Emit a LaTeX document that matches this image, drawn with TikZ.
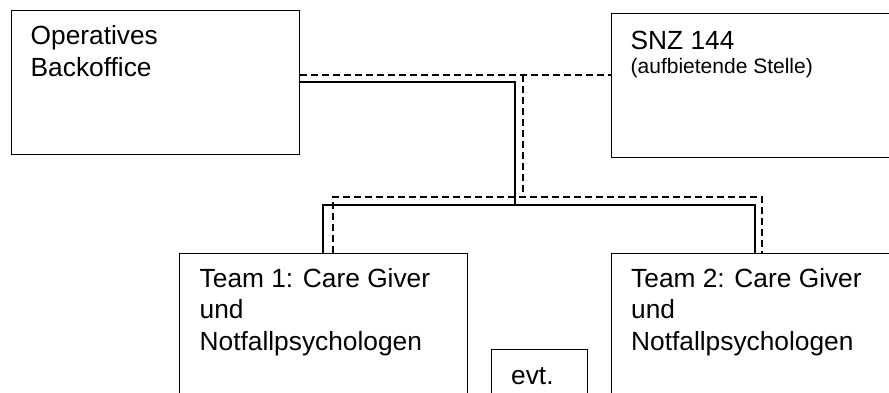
\documentclass[tikz,border=0pt]{standalone}
\usepackage{fontspec}
\setmainfont{Liberation Sans}
\begin{document}
\begin{tikzpicture}[x=1pt,y=-1pt,
  boxstyle/.style={draw=black,line width=1.4pt,rectangle,inner sep=0pt},
  txt/.style={inner sep=0pt,anchor=base west,align=left,font=\fontsize{26.3}{31.5}\selectfont},
  smalltxt/.style={inner sep=0pt,anchor=base west,align=left,font=\fontsize{21}{24}\selectfont},
  solidline/.style={line width=1.5pt},
  dashline/.style={line width=1.5pt,dash pattern=on 7pt off 4pt}]
\clip (0,0) rectangle (889,392);
% boxes
\node[boxstyle,anchor=north west,minimum width=288pt,minimum height=144pt] (bo) at (11,10) {};
\node[boxstyle,anchor=north west,minimum width=300pt,minimum height=144pt] (snz) at (611,13) {};
\node[boxstyle,anchor=north west,minimum width=288pt,minimum height=160pt] (t1) at (179,253) {};
\node[boxstyle,anchor=north west,minimum width=300pt,minimum height=160pt] (t2) at (611,253) {};
\node[boxstyle,anchor=north west,minimum width=96pt,minimum height=60pt] (evt) at (491,349) {};
% texts (base anchor = baseline of last line)
\node[txt] (botxt) at (30.5,76) {Operatives\\Backoffice};
\node[txt] (snztxt) at (630.5,49) {SNZ 144};
\node[smalltxt] (snzsub) at (630.5,73) {(aufbietende Stelle)};
\node[txt] (t1txt) at (199.5,350) {Team 1: Care Giver\\und\\Notfallpsychologen};
\node[txt] (t2txt) at (631,350) {Team 2: Care Giver\\und\\Notfallpsychologen};
\node[txt] (evttxt) at (511,384) {evt.};
% junction coordinates
\coordinate (sj) at (515,82);
\coordinate (sm) at (515,205);
\coordinate (dj) at (523,75);
\coordinate (dm) at (523,197);
% solid connectors
\draw[solidline] (bo.east |- sj) -- (sj) -- (sm);
\draw[solidline] (t1.north west -| 323,0) -- (323,205) -- (755,205) -- (t2.north west -| 755,0);
% dashed connectors
\draw[dashline] (bo.east |- dj) -- (snz.west |- dj);
\draw[dashline] (dj) -- (dm);
\draw[dashline] (t1.north west -| 333,0) -- (333,197) -- (762,197) -- (t2.north west -| 762,0);
\end{tikzpicture}
\end{document}
